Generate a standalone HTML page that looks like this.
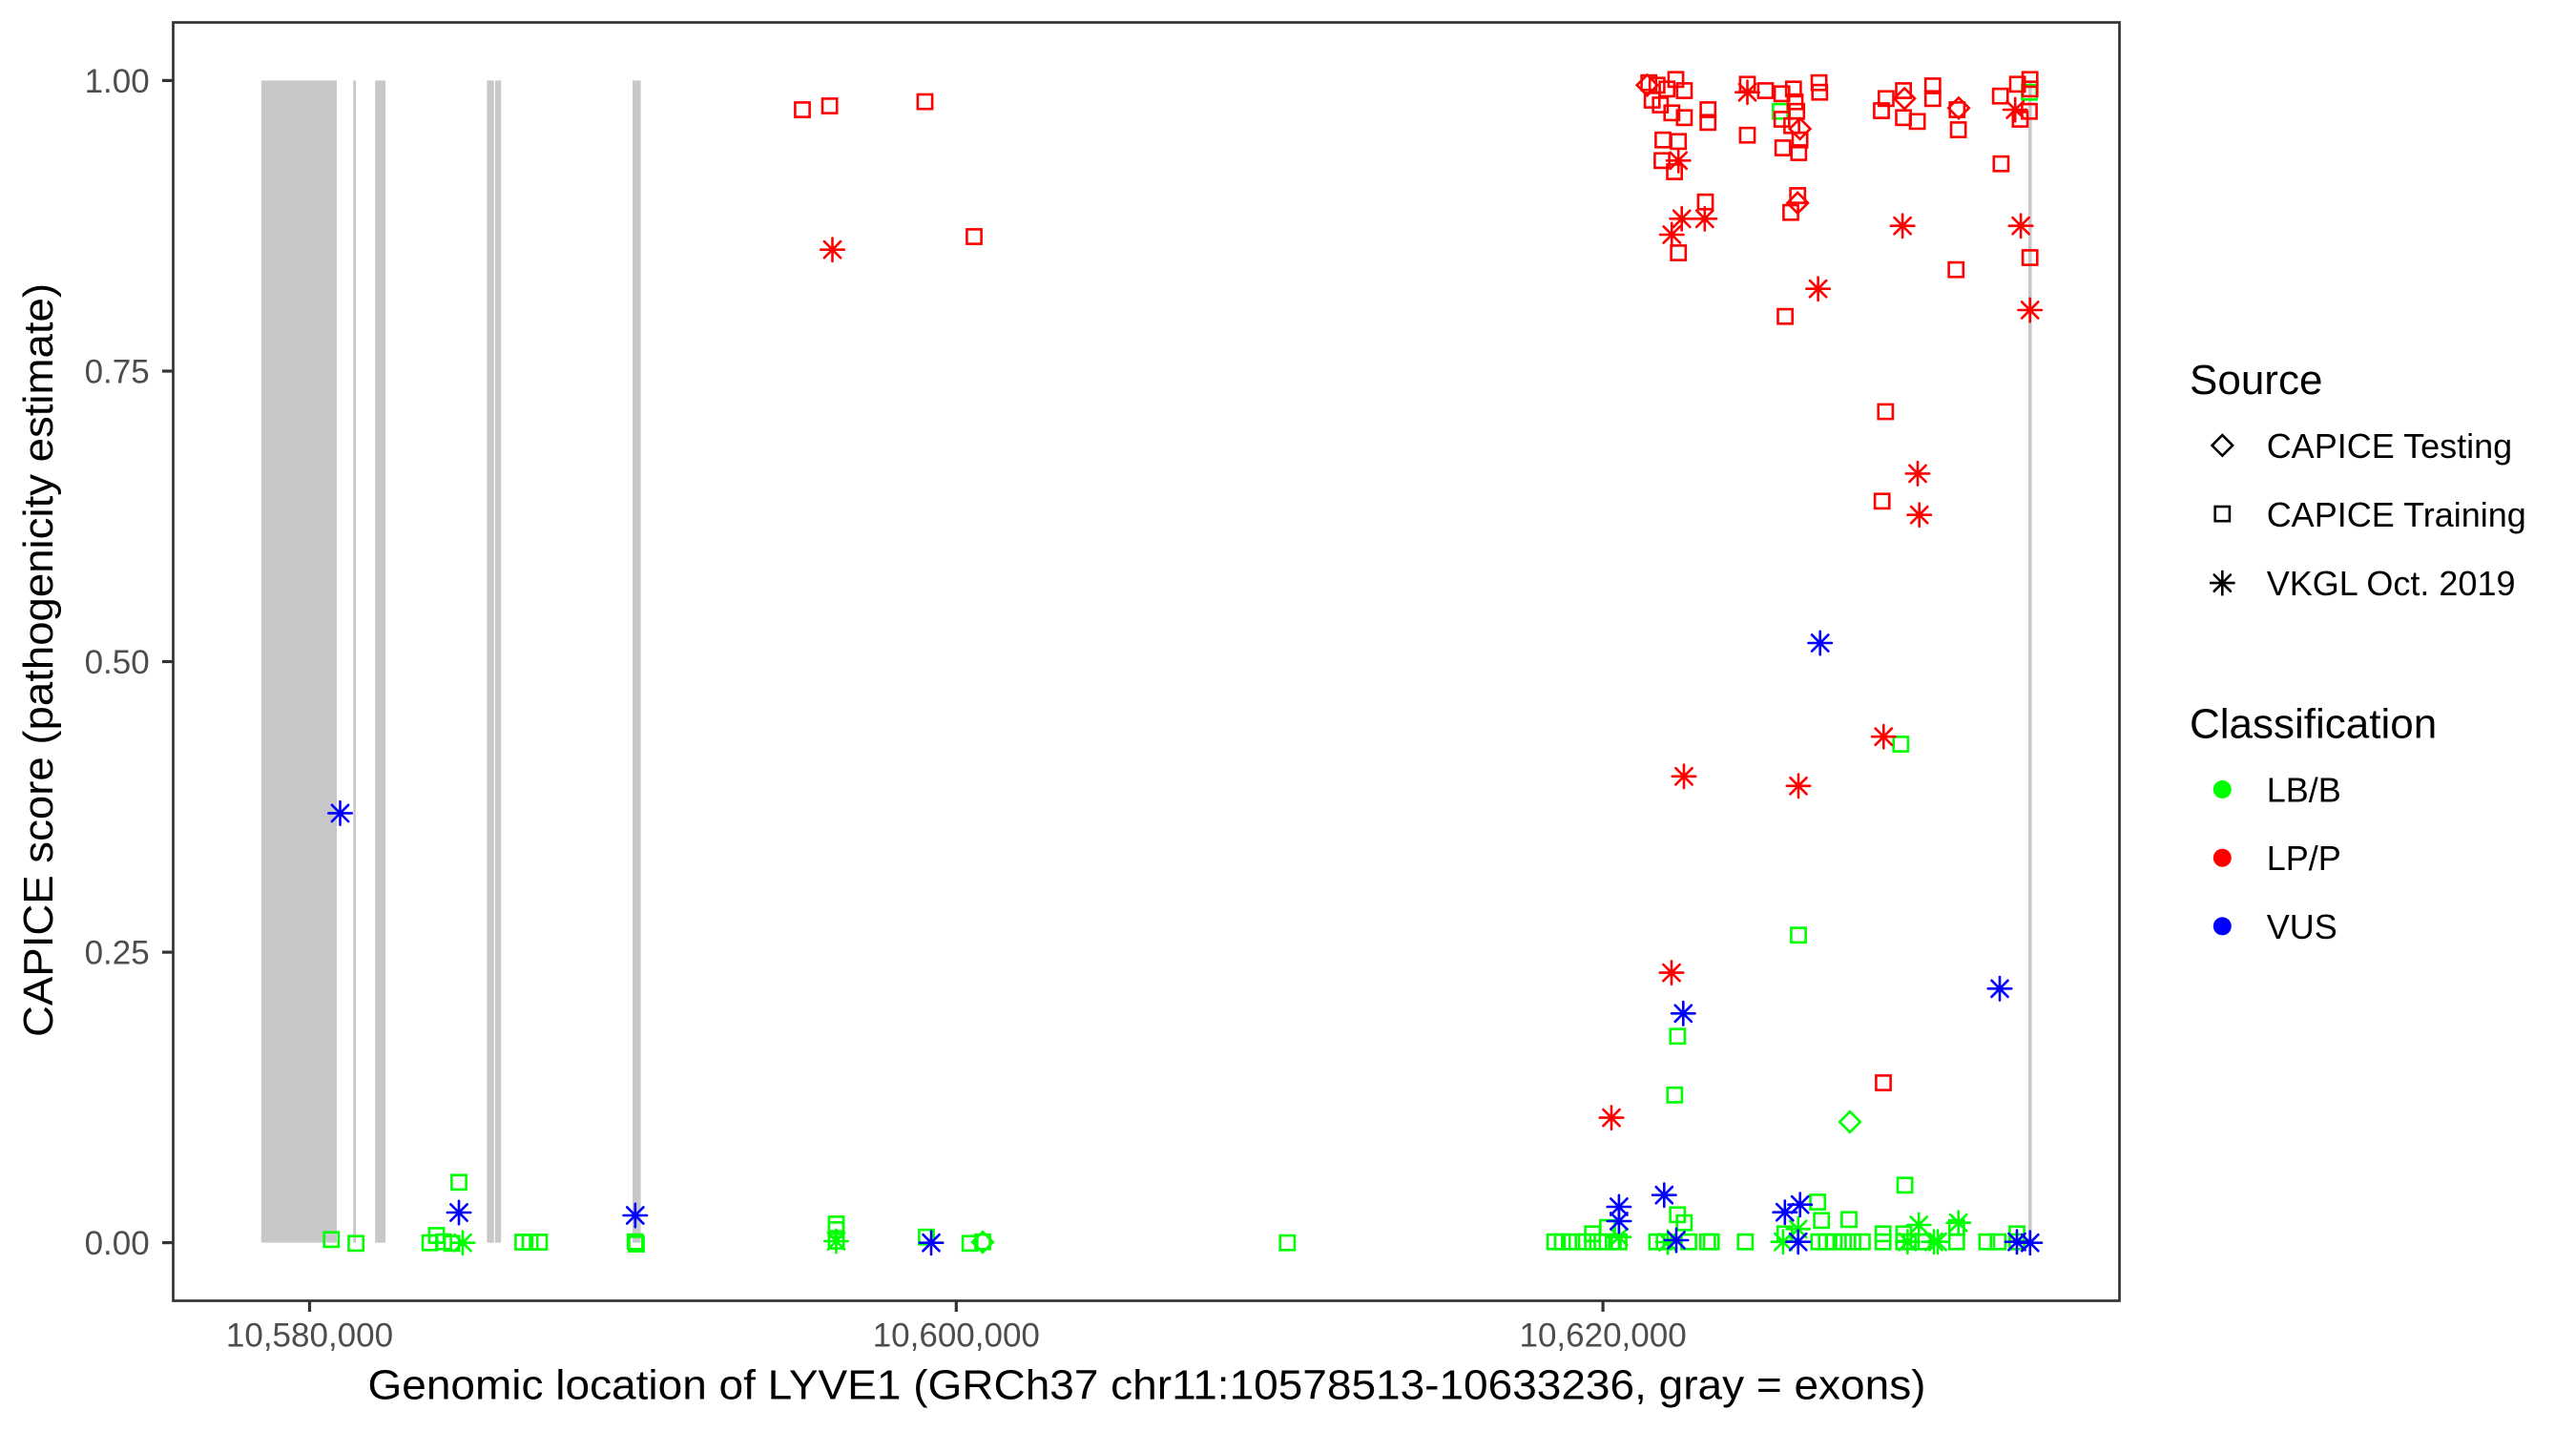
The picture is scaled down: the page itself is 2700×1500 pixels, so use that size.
<!DOCTYPE html>
<html><head><meta charset="utf-8"><style>
html,body{margin:0;padding:0;background:#fff;}
svg{display:block;}
text{font-family:"Liberation Sans",Arial,sans-serif;}
</style></head><body>
<svg width="2700" height="1500" viewBox="0 0 2700 1500" xmlns="http://www.w3.org/2000/svg">
<defs>
<rect id="sq" x="-7.6" y="-7.6" width="15.2" height="15.2" fill="none"/>
<path id="st" d="M-8.6,-8.6L8.6,8.6M-8.6,8.6L8.6,-8.6M-12.2,0H12.2M0,-12.2V12.2" fill="none"/>
<path id="dm" d="M0,-10.8L10.8,0L0,10.8L-10.8,0Z" fill="none"/>
</defs>
<rect x="0" y="0" width="2700" height="1500" fill="#fff"/>
<!-- exons -->
<g fill="#c8c8c8">
<rect x="273.8" y="84.4" width="79.2" height="1218.2"/>
<rect x="370.2" y="84.4" width="2.9" height="1218.2"/>
<rect x="393.2" y="84.4" width="10.9" height="1218.2"/>
<rect x="510.3" y="84.4" width="7.4" height="1218.2"/>
<rect x="518.9" y="84.4" width="6.3" height="1218.2"/>
<rect x="663" y="84.4" width="8.6" height="1218.2"/>
<rect x="2126" y="84.4" width="3.6" height="1218.2"/>
</g>
<!-- green -->
<g stroke="#00ff00" stroke-width="2.6" stroke-linecap="round" fill="none">
<use href="#sq" x="347.3" y="1299.3"/><use href="#sq" x="373.1" y="1303.3"/><use href="#sq" x="450.6" y="1302.7"/><use href="#sq" x="457.5" y="1295"/><use href="#sq" x="465" y="1301.7"/><use href="#sq" x="473.6" y="1303.3"/><use href="#sq" x="481" y="1239.3"/><use href="#sq" x="548" y="1302"/><use href="#sq" x="555.6" y="1302"/><use href="#sq" x="565.4" y="1302"/><use href="#sq" x="665.8" y="1301.7"/><use href="#sq" x="667" y="1304"/><use href="#sq" x="876.5" y="1283"/><use href="#sq" x="876.5" y="1289"/><use href="#sq" x="876.5" y="1301"/><use href="#sq" x="971" y="1296.7"/><use href="#sq" x="1016.7" y="1303.3"/><use href="#sq" x="1030" y="1301.7"/><use href="#sq" x="1349.3" y="1302.7"/>
<use href="#sq" x="1629.7" y="1301.7"/><use href="#sq" x="1637.6" y="1301.7"/><use href="#sq" x="1647.4" y="1301.7"/><use href="#sq" x="1659.3" y="1301.7"/><use href="#sq" x="1669.2" y="1301.7"/><use href="#sq" x="1679.1" y="1301.7"/><use href="#sq" x="1690.9" y="1301.7"/><use href="#sq" x="1696.9" y="1301.7"/><use href="#sq" x="1669.2" y="1293.3"/><use href="#sq" x="1685" y="1286.7"/><use href="#sq" x="1758.2" y="1273.3"/><use href="#sq" x="1765.3" y="1281.7"/><use href="#sq" x="1736.4" y="1301.7"/><use href="#sq" x="1744.3" y="1301.7"/><use href="#sq" x="1770" y="1301.7"/><use href="#sq" x="1789.8" y="1301.7"/><use href="#sq" x="1793.7" y="1301.7"/><use href="#sq" x="1829.3" y="1301.7"/><use href="#sq" x="1870.8" y="1293.3"/><use href="#sq" x="1905.2" y="1260"/><use href="#sq" x="1909.2" y="1279.3"/><use href="#sq" x="1938" y="1278.3"/><use href="#sq" x="1996.6" y="1242.3"/><use href="#sq" x="1906.4" y="1301.7"/><use href="#sq" x="1914.3" y="1301.7"/><use href="#sq" x="1922.3" y="1301.7"/><use href="#sq" x="1932.1" y="1301.7"/><use href="#sq" x="1942" y="1301.7"/><use href="#sq" x="1951.9" y="1301.7"/><use href="#sq" x="1973.7" y="1301.7"/><use href="#sq" x="1995.4" y="1301.7"/><use href="#sq" x="2003.3" y="1301.7"/><use href="#sq" x="2015.2" y="1301.7"/><use href="#sq" x="2050.8" y="1301.7"/><use href="#sq" x="2082.4" y="1301.7"/><use href="#sq" x="2094.3" y="1301.7"/><use href="#sq" x="2114" y="1301.7"/><use href="#sq" x="1973.7" y="1293.3"/><use href="#sq" x="1995.4" y="1293.3"/><use href="#sq" x="2050.8" y="1286.7"/><use href="#sq" x="2114" y="1293.3"/>
<use href="#sq" x="1992.3" y="780"/><use href="#sq" x="1885" y="980.2"/><use href="#sq" x="1758.3" y="1086.2"/><use href="#sq" x="1755.3" y="1147.8"/>
<use href="#sq" x="1866" y="116.7"/><use href="#sq" x="2127" y="96.7"/>
<use href="#st" x="485" y="1302.7"/><use href="#st" x="876.5" y="1301"/><use href="#st" x="1696.9" y="1296.7"/><use href="#st" x="1868.9" y="1301.7"/><use href="#st" x="1884.7" y="1288.3"/><use href="#st" x="2011.2" y="1284"/><use href="#st" x="1999.4" y="1301.7"/><use href="#st" x="2027" y="1301.7"/><use href="#st" x="2031" y="1301.7"/><use href="#st" x="2052.7" y="1281.7"/><use href="#st" x="1748" y="1302"/>
<use href="#dm" x="1939" y="1176"/><use href="#dm" x="1030" y="1302"/>
</g>
<!-- red -->
<g stroke="#ff0000" stroke-width="2.6" stroke-linecap="round" fill="none">
<use href="#sq" x="841" y="115"/><use href="#sq" x="869.6" y="111"/><use href="#sq" x="969.5" y="106.6"/><use href="#sq" x="1021" y="248"/>
<use href="#sq" x="1728.2" y="86.7"/><use href="#sq" x="1736.8" y="89.3"/><use href="#sq" x="1756.5" y="83.3"/><use href="#sq" x="1765.4" y="95"/><use href="#sq" x="1747.2" y="93.3"/><use href="#sq" x="1731.7" y="105"/><use href="#sq" x="1740.3" y="110"/><use href="#sq" x="1752.3" y="118.3"/><use href="#sq" x="1765.4" y="123.3"/><use href="#sq" x="1790.2" y="115"/><use href="#sq" x="1790.2" y="128.3"/><use href="#sq" x="1743" y="146.7"/><use href="#sq" x="1759.2" y="148.3"/><use href="#sq" x="1742" y="168.3"/><use href="#sq" x="1755.1" y="180"/><use href="#sq" x="1787.5" y="211.7"/><use href="#sq" x="1759.2" y="265"/>
<use href="#sq" x="1831.5" y="88.3"/><use href="#sq" x="1850.5" y="95"/><use href="#sq" x="1867.7" y="98.3"/><use href="#sq" x="1879.8" y="93.3"/><use href="#sq" x="1881.5" y="106.7"/><use href="#sq" x="1883.2" y="116.7"/><use href="#sq" x="1867.7" y="125"/><use href="#sq" x="1878" y="131.7"/><use href="#sq" x="1886.6" y="146.7"/><use href="#sq" x="1868.7" y="155"/><use href="#sq" x="1885.3" y="160"/><use href="#sq" x="1831.5" y="141.7"/><use href="#sq" x="1906.6" y="86.7"/><use href="#sq" x="1907.3" y="96.7"/><use href="#sq" x="1884.2" y="205"/><use href="#sq" x="1877" y="222.7"/><use href="#sq" x="1871.1" y="331.7"/>
<use href="#sq" x="1976.9" y="103.3"/><use href="#sq" x="1972" y="116"/><use href="#sq" x="1995.1" y="95"/><use href="#sq" x="1995.1" y="123.3"/><use href="#sq" x="2009.6" y="127.3"/><use href="#sq" x="2025.8" y="90"/><use href="#sq" x="2025.8" y="103.3"/><use href="#sq" x="2051.3" y="115"/><use href="#sq" x="2052.6" y="136"/><use href="#sq" x="2050.2" y="282.7"/>
<use href="#sq" x="2096.7" y="100.7"/><use href="#sq" x="2114.6" y="88.3"/><use href="#sq" x="2127.7" y="83.3"/><use href="#sq" x="2127.7" y="93.3"/><use href="#sq" x="2127" y="116.7"/><use href="#sq" x="2117.4" y="125"/><use href="#sq" x="2097.4" y="171.7"/><use href="#sq" x="2127.7" y="270"/>
<use href="#sq" x="1976.3" y="431.5"/><use href="#sq" x="1972.7" y="525.3"/><use href="#sq" x="1974" y="1135"/>
<use href="#st" x="872.5" y="261.7"/><use href="#st" x="1759.2" y="168.3"/><use href="#st" x="1762.7" y="229.3"/><use href="#st" x="1786.8" y="229.3"/><use href="#st" x="1752.3" y="246"/><use href="#st" x="1831.5" y="96.7"/><use href="#st" x="1905.6" y="302.7"/><use href="#st" x="1994.1" y="236.7"/><use href="#st" x="2112.2" y="115"/><use href="#st" x="2118.1" y="236.7"/><use href="#st" x="2127.7" y="325"/>
<use href="#st" x="2010" y="496.4"/><use href="#st" x="2011.7" y="539.7"/><use href="#st" x="1974.3" y="772.2"/><use href="#st" x="1765" y="813.8"/><use href="#st" x="1885" y="823.8"/><use href="#st" x="1752" y="1019.6"/><use href="#st" x="1689" y="1171.6"/>
<use href="#dm" x="1726.5" y="89.3"/><use href="#dm" x="1886.6" y="135"/><use href="#dm" x="1884.2" y="212.7"/><use href="#dm" x="1996.2" y="103.3"/><use href="#dm" x="2053" y="113.3"/>
</g>
<!-- blue -->
<g stroke="#0000ff" stroke-width="2.6" stroke-linecap="round" fill="none">
<use href="#st" x="481" y="1271"/><use href="#st" x="665.8" y="1274"/><use href="#st" x="356.5" y="852.4"/><use href="#st" x="976" y="1302.7"/><use href="#st" x="1696.9" y="1265"/><use href="#st" x="1696.9" y="1280"/><use href="#st" x="1744.3" y="1252.7"/><use href="#st" x="1757" y="1300"/><use href="#st" x="1870.8" y="1270.7"/><use href="#st" x="1886.7" y="1262.7"/><use href="#st" x="1884.7" y="1301.7"/><use href="#st" x="2114" y="1301.7"/><use href="#st" x="2127.8" y="1302.7"/><use href="#st" x="1907.7" y="674"/><use href="#st" x="2096" y="1036.3"/><use href="#st" x="1764.3" y="1062.3"/>
</g>
<!-- panel border -->
<rect x="181.5" y="23.5" width="2040" height="1340" fill="none" stroke="#333333" stroke-width="2.7"/>
<!-- ticks -->
<g stroke="#333333" stroke-width="3.2">
<line x1="170" y1="84.4" x2="181.5" y2="84.4"/>
<line x1="170" y1="389" x2="181.5" y2="389"/>
<line x1="170" y1="693.5" x2="181.5" y2="693.5"/>
<line x1="170" y1="998.1" x2="181.5" y2="998.1"/>
<line x1="170" y1="1302.6" x2="181.5" y2="1302.6"/>
<line x1="324.5" y1="1363.5" x2="324.5" y2="1375"/>
<line x1="1002.3" y1="1363.5" x2="1002.3" y2="1375"/>
<line x1="1680.1" y1="1363.5" x2="1680.1" y2="1375"/>
</g>
<g fill="#4d4d4d" font-size="35">
<text x="156.7" y="96.9" text-anchor="end">1.00</text>
<text x="156.7" y="401.5" text-anchor="end">0.75</text>
<text x="156.7" y="706" text-anchor="end">0.50</text>
<text x="156.7" y="1010.6" text-anchor="end">0.25</text>
<text x="156.7" y="1315.1" text-anchor="end">0.00</text>
<text x="324.5" y="1411.5" text-anchor="middle">10,580,000</text>
<text x="1002.3" y="1411.5" text-anchor="middle">10,600,000</text>
<text x="1680.1" y="1411.5" text-anchor="middle">10,620,000</text>
</g>
<text x="1202" y="1466.7" font-size="44" text-anchor="middle" textLength="1633" lengthAdjust="spacingAndGlyphs" fill="#000">Genomic location of LYVE1 (GRCh37 chr11:10578513-10633236, gray = exons)</text>
<text transform="translate(55,692) rotate(-90)" font-size="44" text-anchor="middle" textLength="790" lengthAdjust="spacingAndGlyphs" fill="#000">CAPICE score (pathogenicity estimate)</text>
<!-- legend -->
<text x="2295" y="413" font-size="44" fill="#000">Source</text>
<g stroke="#000" stroke-width="2.6" stroke-linecap="round" fill="none">
<use href="#dm" x="2329.3" y="466.9"/>
<use href="#sq" x="2329.3" y="538.6"/>
<use href="#st" x="2329.3" y="611.1"/>
</g>
<g font-size="36" fill="#000">
<text x="2375.7" y="480">CAPICE Testing</text>
<text x="2375.7" y="552">CAPICE Training</text>
<text x="2375.7" y="624">VKGL Oct. 2019</text>
</g>
<text x="2295" y="773.5" font-size="44" fill="#000">Classification</text>
<circle cx="2329.3" cy="827.5" r="9.5" fill="#00ff00"/>
<circle cx="2329.3" cy="899.2" r="9.5" fill="#ff0000"/>
<circle cx="2329.3" cy="970.9" r="9.5" fill="#0000ff"/>
<g font-size="36" fill="#000">
<text x="2375.7" y="840.5">LB/B</text>
<text x="2375.7" y="912.2">LP/P</text>
<text x="2375.7" y="983.9">VUS</text>
</g>
</svg>
</body></html>
